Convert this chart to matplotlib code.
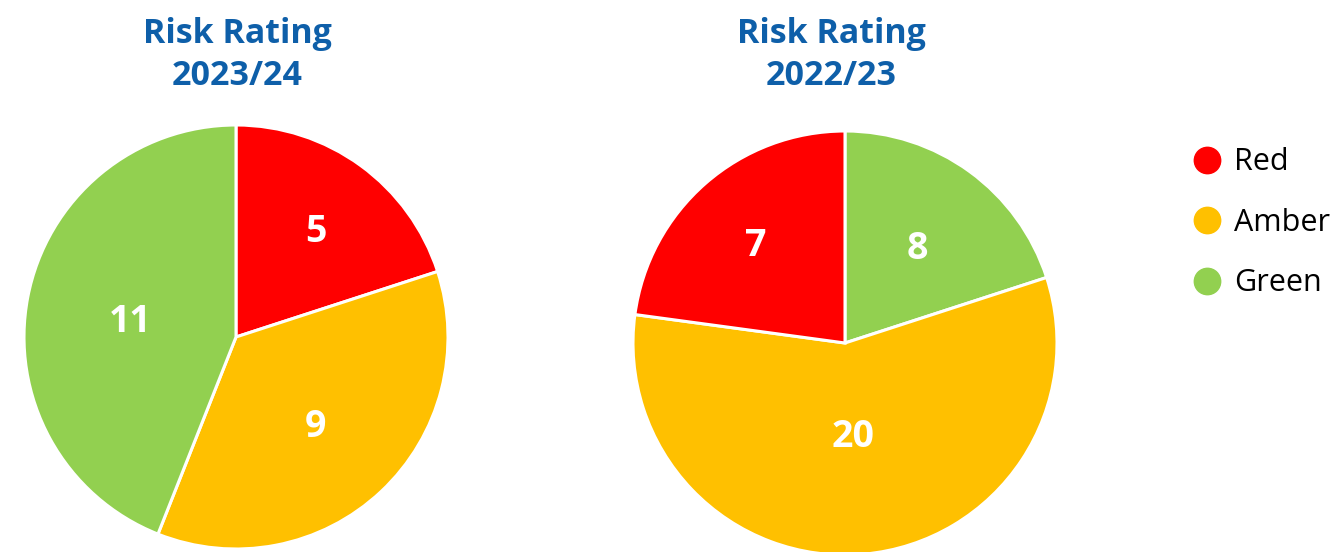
import math
import matplotlib
matplotlib.use("Agg")
import matplotlib.pyplot as plt
import matplotlib.transforms as mtransforms
from matplotlib.lines import Line2D

plt.rcParams['font.family'] = ['Open Sans', 'DejaVu Sans']

# data
categories = ["Red", "Amber", "Green"]
colors = {"Red": "#FF0000", "Amber": "#FFC000", "Green": "#92D050"}

# 2023/24, clockwise from 12 o'clock: Red, Amber, Green
order_2324 = ["Red", "Amber", "Green"]
values_2324 = [5, 9, 11]
labels_2324 = ["5", "9", "11"]

# 2022/23, clockwise from 12 o'clock: Green, Amber, Red
# (wedge sizes as drawn in the source; the printed labels differ slightly)
order_2223 = ["Green", "Amber", "Red"]
values_2223 = [7, 20, 8]
labels_2223 = ["8", "20", "7"]

titles = ["Risk Rating\n2023/24", "Risk Rating\n2022/23"]

# label distance from centre, as a fraction of the radius
label_dist_2324 = [0.64, 0.55, 0.51]
label_dist_2223 = [0.58, 0.42, 0.64]

W, H = 1342, 552
fig = plt.figure(figsize=(W / 100, H / 100), dpi=100)


def pie_axes(cx, cy, r):
    return fig.add_axes([(cx - r) / W, (H - cy - r) / H, 2 * r / W, 2 * r / H])


def draw_pie(ax, order, values, labels, dists):
    wedges, _ = ax.pie(values, colors=[colors[c] for c in order], startangle=90,
                       counterclock=False, radius=1.0,
                       wedgeprops=dict(edgecolor="white", linewidth=2.2))
    # nudge labels down a little so the digits sit centred
    shift = ax.transData + mtransforms.ScaledTranslation(0, -0.05, fig.dpi_scale_trans)
    for w, lab, d in zip(wedges, labels, dists):
        mid = math.radians((w.theta1 + w.theta2) / 2.0)
        ax.text(d * math.cos(mid), d * math.sin(mid), lab, ha="center",
                va="center", color="white", fontsize=27, fontweight="bold",
                transform=shift)
    ax.set_xlim(-1.0, 1.0)
    ax.set_ylim(-1.0, 1.0)
    ax.set_aspect("equal")
    ax.axis("off")


ax1 = pie_axes(236, 337, 212)
draw_pie(ax1, order_2324, values_2324, labels_2324, label_dist_2324)
ax2 = pie_axes(845, 343, 212)
draw_pie(ax2, order_2223, values_2223, labels_2223, label_dist_2223)

title_color = "#0E5FA9"
fig.text(237 / W, 1 - 55 / H, titles[0], ha="center", va="center",
         fontsize=24.5, fontweight="bold", color=title_color, linespacing=1.3)
fig.text(831 / W, 1 - 55 / H, titles[1], ha="center", va="center",
         fontsize=24.5, fontweight="bold", color=title_color, linespacing=1.3)

handles = [Line2D([], [], marker="o", linestyle="none", markersize=19,
                  markerfacecolor=colors[c], markeredgecolor=colors[c])
           for c in categories]
fig.legend(handles, categories, loc="upper left",
           bbox_to_anchor=(1176 / W, 1 - 132 / H), frameon=False,
           fontsize=22, handlelength=1.0, handletextpad=0.4,
           labelspacing=1.0, borderpad=0)

fig.savefig("out.png", dpi=100)
